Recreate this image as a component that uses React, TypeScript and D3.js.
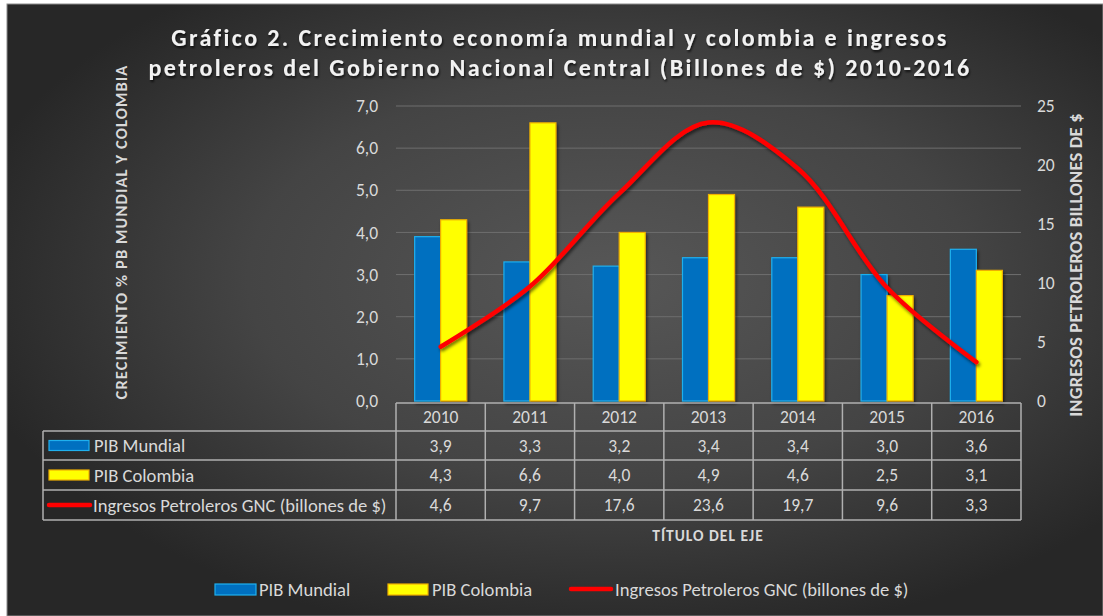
import React from "react";
import * as d3 from "d3";

const years = ["2010", "2011", "2012", "2013", "2014", "2015", "2016"];
const pibMundial = [3.9, 3.3, 3.2, 3.4, 3.4, 3.0, 3.6];
const pibColombia = [4.3, 6.6, 4.0, 4.9, 4.6, 2.5, 3.1];
const ingresos = [4.6, 9.7, 17.6, 23.6, 19.7, 9.6, 3.3];
const leftTicks = [0, 1, 2, 3, 4, 5, 6, 7];
const rightTicks = [0, 5, 10, 15, 20, 25];
const seriesNames = ["PIB Mundial", "PIB Colombia", "Ingresos Petroleros GNC (billones de $)"];

const W = 1103;
const H = 616;
const FONT = "Carlito, Calibri, Lato, 'Open Sans', sans-serif";
const TXT = "#d9d9d9";
const GRID = "#b0b0b0";
const FS = 17.5;
const LFS = 18.6;
const fmt = (v: number) => v.toFixed(1).replace(".", ",");

export default function App() {
  React.useEffect(() => {
    document.body.style.margin = "0";
  }, []);

  const x = d3.scaleBand<string>().domain(years).range([396, 1021]);
  const yL = d3.scaleLinear().domain([0, 7]).range([401, 106]);
  const yR = d3.scaleLinear().domain([0, 25]).range([401, 106]);
  const bw = 26;

  const line = d3
    .line<number>()
    .x((_, i) => (x(years[i]) as number) + x.bandwidth() / 2)
    .y((d) => yR(d))
    .curve(d3.curveCatmullRom.alpha(0.5));

  const rowTops = [403, 431, 460, 490, 520];
  const tableLeft = 43;
  const colEdges = years.map((y) => x(y) as number).concat([1021]);

  return (
    <div style={{ position: "absolute", left: 0, top: 0, width: W, height: H }}>
      <svg width={W} height={H} style={{ display: "block" }} fontFamily={FONT}>
        <defs>
          <radialGradient id="bg" cx="0.55" cy="0.45" r="0.6">
            <stop offset="0" stopColor="#575757" />
            <stop offset="0.55" stopColor="#444444" />
            <stop offset="1" stopColor="#272727" />
          </radialGradient>
          <filter id="sh" x="-20%" y="-20%" width="140%" height="140%">
            <feDropShadow dx="1.5" dy="2.5" stdDeviation="1.5" floodColor="#000" floodOpacity="0.55" />
          </filter>
          <filter id="tsh" x="-5%" y="-20%" width="110%" height="160%">
            <feDropShadow dx="1" dy="2" stdDeviation="1.2" floodColor="#000" floodOpacity="0.7" />
          </filter>
        </defs>
        <rect x={0} y={0} width={W} height={H} fill="#ffffff" />
        <rect x={7} y={4} width={W - 7} height={H - 4} fill="url(#bg)" stroke="#8c8c8c" strokeWidth={1} />

        {/* title */}
        <g fill="#f2f2f2" fontWeight="bold" fontSize={24} textAnchor="middle" letterSpacing={2.4} filter="url(#tsh)">
          <text x={560} y={46}>Gráfico 2. Crecimiento economía mundial y colombia e ingresos</text>
          <text x={560} y={76}>petroleros del Gobierno Nacional Central (Billones de $) 2010-2016</text>
        </g>

        {/* gridlines */}
        {leftTicks.slice(1).map((t) => (
          <line key={t} x1={396} x2={1021} y1={yL(t)} y2={yL(t)} stroke="#6e6e6e" strokeWidth={1} />
        ))}

        {/* left ticks */}
        {leftTicks.map((t) => (
          <text key={t} x={378} y={yL(t)} dy="0.35em" textAnchor="end" fill={TXT} fontSize={FS}>
            {fmt(t)}
          </text>
        ))}
        {/* right ticks */}
        {rightTicks.map((t) => (
          <text key={t} x={1037} y={yR(t)} dy="0.35em" textAnchor="start" fill={TXT} fontSize={FS}>
            {t}
          </text>
        ))}

        {/* axis titles */}
        <text
          transform={`translate(127,232) rotate(-90)`}
          textAnchor="middle"
          fill={TXT}
          fontWeight="bold"
          fontSize={16.5}
          letterSpacing={1.1}
        >
          CRECIMIENTO % PB MUNDIAL Y COLOMBIA
        </text>
        <text
          transform={`translate(1082,265) rotate(-90)`}
          textAnchor="middle"
          fill={TXT}
          fontWeight="bold"
          fontSize={18.5}
          letterSpacing={0.2}
        >
          INGRESOS PETROLEROS BILLONES DE $
        </text>

        {/* bars */}
        <g filter="url(#sh)">
          {years.map((yr, i) => {
            const cx = (x(yr) as number) + x.bandwidth() / 2;
            return (
              <g key={yr}>
                <rect
                  x={cx - bw}
                  y={yL(pibMundial[i])}
                  width={bw}
                  height={yL(0) - yL(pibMundial[i])}
                  fill="#0070c0"
                  stroke="#1fb0ee"
                  strokeWidth={1.2}
                />
                <rect
                  x={cx}
                  y={yL(pibColombia[i])}
                  width={bw}
                  height={yL(0) - yL(pibColombia[i])}
                  fill="#ffff00"
                  stroke="#f0b000"
                  strokeWidth={1.2}
                />
              </g>
            );
          })}
        </g>

        {/* line */}
        <path d={line(ingresos) || ""} fill="none" stroke="#ff0000" strokeWidth={4.5} strokeLinecap="round" filter="url(#sh)" />

        {/* data table */}
        <g stroke={GRID} strokeWidth={1.5} fill="none">
          <line x1={396} x2={1021} y1={rowTops[0]} y2={rowTops[0]} />
          {rowTops.slice(1).map((r) => (
            <line key={r} x1={tableLeft} x2={1021} y1={r} y2={r} />
          ))}
          {colEdges.map((c) => (
            <line key={c} x1={c} x2={c} y1={rowTops[0]} y2={rowTops[4]} />
          ))}
          <line x1={tableLeft} x2={tableLeft} y1={rowTops[1]} y2={rowTops[4]} />
        </g>
        <g fill={TXT} fontSize={FS} textAnchor="middle">
          {years.map((yr) => {
            const cx = (x(yr) as number) + x.bandwidth() / 2;
            return (
              <text key={yr} x={cx} y={(rowTops[0] + rowTops[1]) / 2} dy="0.35em">
                {yr}
              </text>
            );
          })}
          {[pibMundial, pibColombia, ingresos].map((arr, r) =>
            arr.map((v, i) => {
              const cx = (x(years[i]) as number) + x.bandwidth() / 2;
              return (
                <text key={r + "-" + i} x={cx} y={(rowTops[r + 1] + rowTops[r + 2]) / 2} dy="0.35em">
                  {fmt(v)}
                </text>
              );
            })
          )}
        </g>
        {/* table legend keys */}
        {seriesNames.map((name, r) => {
          const cy = (rowTops[r + 1] + rowTops[r + 2]) / 2;
          return (
            <g key={name}>
              {r === 0 && <rect x={49} y={cy - 5} width={40} height={10} fill="#0070c0" stroke="#1fb0ee" strokeWidth={1.2} />}
              {r === 1 && <rect x={49} y={cy - 5} width={40} height={10} fill="#ffff00" stroke="#f0b000" strokeWidth={1.2} />}
              {r === 2 && <line x1={49} x2={90} y1={cy} y2={cy} stroke="#ff0000" strokeWidth={4.5} strokeLinecap="round" />}
              <text x={r === 2 ? 93 : 94} y={cy} dy="0.35em" fill={TXT} fontSize={LFS}>
                {name}
              </text>
            </g>
          );
        })}

        {/* x axis title */}
        <text x={708} y={541} textAnchor="middle" fill={TXT} fontWeight="bold" fontSize={15.5} letterSpacing={1}>
          TÍTULO DEL EJE
        </text>

        {/* bottom legend */}
        <g fontSize={LFS} fill={TXT}>
          <rect x={215} y={584} width={41} height={11} fill="#0070c0" stroke="#1fb0ee" strokeWidth={1.2} />
          <text x={259} y={589} dy="0.35em">{seriesNames[0]}</text>
          <rect x={388} y={584} width={40} height={11} fill="#ffff00" stroke="#f0b000" strokeWidth={1.2} />
          <text x={432} y={589} dy="0.35em">{seriesNames[1]}</text>
          <line x1={571} x2={611} y1={589} y2={589} stroke="#ff0000" strokeWidth={4.5} strokeLinecap="round" />
          <text x={615} y={589} dy="0.35em">{seriesNames[2]}</text>
        </g>
      </svg>
    </div>
  );
}
